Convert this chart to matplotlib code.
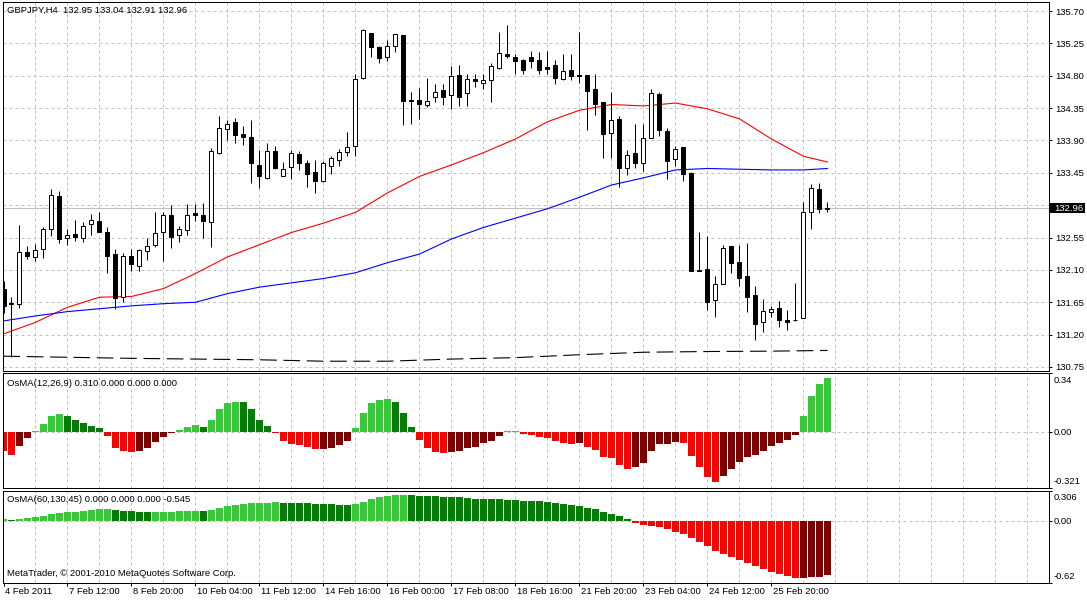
import matplotlib
matplotlib.use("Agg")
import matplotlib.pyplot as plt
import numpy as np
from matplotlib.patches import Rectangle
from matplotlib.transforms import blended_transform_factory, ScaledTranslation

plt.rcParams['font.family'] = ['Liberation Sans', 'DejaVu Sans']

# GBPJPY H4 candles, bar 0 = leftmost visible bar
opens = [131.84, 131.64, 131.62, 132.35, 132.28, 132.39, 132.67, 133.13, 132.55, 132.60,
         132.55, 132.74, 132.78, 132.62, 132.32, 131.73, 132.30, 132.15, 132.36, 132.44,
         132.62, 132.87, 132.58, 132.65, 132.89, 132.86, 132.76, 133.72, 134.06, 134.15,
         133.99, 133.95, 133.56, 133.38, 133.76, 133.41, 133.53, 133.71, 133.59, 133.46,
         133.33, 133.55, 133.63, 133.74, 133.82, 134.77, 135.40, 135.20, 135.06, 135.22,
         135.37, 134.46, 134.46, 134.39, 134.51, 134.60, 134.53, 134.81, 134.56, 134.75,
         134.70, 134.74, 134.91, 135.10, 135.06, 135.02, 135.06, 135.02, 134.92, 134.95,
         134.76, 134.88, 134.81, 134.81, 134.61, 134.44, 134.01, 134.20, 133.51, 133.72,
         133.58, 133.93, 134.55, 134.03, 133.64, 133.81, 133.45, 132.10, 132.11, 131.68,
         131.91, 132.43, 132.21, 132.01, 131.75, 131.37, 131.51, 131.57, 131.40, 131.40,
         131.43, 132.91, 133.23, 132.95]
highs = [131.95, 131.73, 132.73, 132.43, 132.46, 132.70, 133.23, 133.20, 132.67, 132.80,
         132.77, 132.88, 132.90, 132.70, 132.39, 132.33, 132.39, 132.39, 132.54, 132.91,
         132.90, 133.00, 132.71, 133.02, 133.02, 133.03, 133.80, 134.24, 134.19, 134.21,
         134.10, 134.19, 133.77, 133.87, 133.82, 133.60, 133.77, 133.76, 133.63, 133.63,
         133.62, 133.69, 133.78, 134.02, 134.82, 135.45, 135.40, 135.22, 135.30, 135.38,
         135.37, 134.58, 134.63, 134.77, 134.68, 134.69, 134.94, 134.95, 134.82, 134.82,
         134.83, 134.97, 135.41, 135.51, 135.10, 135.03, 135.15, 135.13, 135.15, 135.02,
         135.10, 135.10, 135.41, 134.81, 134.82, 134.44, 134.58, 134.24, 133.77, 134.13,
         134.13, 134.61, 134.57, 134.08, 133.82, 133.81, 133.46, 132.63, 132.57, 132.01,
         132.45, 132.43, 132.45, 132.48, 131.88, 131.70, 131.60, 131.67, 131.54, 131.92,
         133.04, 133.30, 133.31, 133.04]
lows = [131.50, 130.89, 131.57, 132.25, 132.22, 132.26, 132.57, 132.48, 132.44, 132.50,
        132.49, 132.59, 132.62, 132.05, 131.55, 131.66, 132.09, 132.09, 132.24, 132.42,
        132.23, 132.41, 132.49, 132.59, 132.78, 132.55, 132.42, 133.71, 133.90, 133.87,
        133.83, 133.31, 133.24, 133.37, 133.50, 133.40, 133.36, 133.49, 133.25, 133.17,
        133.32, 133.44, 133.54, 133.69, 133.69, 134.75, 135.06, 134.97, 135.00, 135.13,
        134.11, 134.13, 134.20, 134.37, 134.43, 134.39, 134.34, 134.38, 134.38, 134.64,
        134.61, 134.44, 134.90, 135.04, 134.82, 134.82, 134.91, 134.83, 134.83, 134.68,
        134.74, 134.74, 134.70, 134.05, 134.25, 133.65, 133.65, 133.25, 133.42, 133.51,
        133.48, 133.93, 133.96, 133.37, 133.54, 133.33, 132.08, 132.08, 131.54, 131.45,
        131.91, 132.05, 131.87, 131.52, 131.12, 131.23, 131.45, 131.30, 131.27, 131.39,
        131.43, 132.67, 132.89, 132.91]
closes = [131.60, 131.62, 132.35, 132.30, 132.38, 132.67, 133.14, 132.53, 132.58, 132.56,
          132.71, 132.79, 132.63, 132.30, 131.71, 132.30, 132.18, 132.37, 132.43, 132.61,
          132.86, 132.56, 132.67, 132.87, 132.87, 132.78, 133.75, 134.07, 134.13, 133.97,
          133.95, 133.58, 133.40, 133.76, 133.51, 133.50, 133.72, 133.58, 133.44, 133.34,
          133.58, 133.65, 133.74, 133.81, 134.75, 135.43, 135.20, 135.04, 135.22, 135.38,
          134.45, 134.45, 134.40, 134.45, 134.58, 134.51, 134.79, 134.51, 134.76, 134.73,
          134.74, 134.93, 135.11, 135.07, 135.01, 134.88, 135.01, 134.88, 134.90, 134.77,
          134.86, 134.80, 134.79, 134.59, 134.41, 133.99, 134.18, 133.51, 133.70, 133.58,
          133.94, 134.56, 134.04, 133.62, 133.78, 133.44, 132.09, 132.09, 131.66, 131.90,
          132.41, 132.19, 131.99, 131.73, 131.35, 131.53, 131.56, 131.40, 131.38, 131.41,
          132.90, 133.24, 132.95, 132.96]

# moving averages, sampled every 4 bars (black one every 8)
ma_bars = [0, 4, 8, 12, 16, 20, 24, 28, 32, 36, 40, 44, 48, 52, 56, 60, 64, 68, 72,
           76, 80, 84, 88, 92, 96, 100, 103]
red_ma = [131.21, 131.37, 131.58, 131.72, 131.73, 131.84, 132.05, 132.28, 132.45, 132.62,
          132.75, 132.90, 133.17, 133.40, 133.56, 133.73, 133.92, 134.16, 134.32, 134.40,
          134.38, 134.42, 134.34, 134.20, 133.92, 133.68, 133.60]
blue_ma = [131.39, 131.46, 131.52, 131.56, 131.60, 131.63, 131.65, 131.77, 131.86, 131.92,
           131.98, 132.06, 132.20, 132.32, 132.53, 132.69, 132.82, 132.95, 133.11, 133.28,
           133.38, 133.49, 133.51, 133.50, 133.49, 133.49, 133.51]
black_bars = [0, 8, 16, 24, 32, 40, 48, 56, 64, 72, 80, 88, 96, 103]
black_ma = [130.90, 130.885, 130.87, 130.86, 130.85, 130.83, 130.83, 130.86, 130.88,
            130.92, 130.955, 130.965, 130.97, 130.98]

# OsMA(12,26,9) and OsMA(60,130,45)
osma_fast = [-0.105, -0.128, -0.080, -0.036, 0.006, 0.044, 0.095, 0.103, 0.090, 0.072,
             0.055, 0.038, 0.021, -0.023, -0.091, -0.109, -0.114, -0.109, -0.093, -0.057,
             -0.029, -0.006, 0.010, 0.027, 0.040, 0.032, 0.067, 0.132, 0.166, 0.175,
             0.170, 0.130, 0.072, 0.038, -0.006, -0.048, -0.065, -0.074, -0.086, -0.099,
             -0.097, -0.088, -0.071, -0.048, 0.021, 0.112, 0.164, 0.183, 0.189, 0.175,
             0.109, 0.027, -0.042, -0.088, -0.111, -0.120, -0.114, -0.109, -0.093, -0.082,
             -0.061, -0.048, -0.021, 0.004, 0.006, -0.010, -0.017, -0.029, -0.036, -0.051,
             -0.063, -0.069, -0.063, -0.086, -0.103, -0.143, -0.149, -0.189, -0.208, -0.200,
             -0.177, -0.109, -0.069, -0.068, -0.057, -0.063, -0.137, -0.200, -0.257, -0.286,
             -0.252, -0.212, -0.172, -0.143, -0.132, -0.107, -0.080, -0.063, -0.046, -0.017,
             0.090, 0.204, 0.273, 0.310]
osma_slow = [0.017, 0.007, 0.017, 0.027, 0.040, 0.050, 0.067, 0.077, 0.087, 0.088,
             0.097, 0.107, 0.117, 0.118, 0.107, 0.104, 0.097, 0.095, 0.093, 0.094,
             0.095, 0.096, 0.097, 0.098, 0.099, 0.098, 0.111, 0.128, 0.151, 0.161,
             0.171, 0.178, 0.179, 0.181, 0.188, 0.187, 0.186, 0.184, 0.178, 0.177,
             0.171, 0.168, 0.167, 0.166, 0.174, 0.195, 0.218, 0.238, 0.248, 0.258,
             0.259, 0.258, 0.257, 0.252, 0.248, 0.242, 0.241, 0.238, 0.235, 0.225,
             0.221, 0.220, 0.218, 0.215, 0.210, 0.207, 0.204, 0.198, 0.188, 0.178,
             0.168, 0.158, 0.148, 0.128, 0.117, 0.087, 0.067, 0.047, 0.017, -0.017,
             -0.044, -0.050, -0.060, -0.077, -0.111, -0.131, -0.171, -0.211, -0.252, -0.305,
             -0.332, -0.362, -0.392, -0.423, -0.453, -0.480, -0.513, -0.530, -0.554, -0.577,
             -0.574, -0.562, -0.558, -0.545]

price_levels = [130.75, 131.20, 131.65, 132.10, 132.55, 133.00, 133.45, 133.90,
                134.35, 134.80, 135.25, 135.70]
time_ticks = [0, 8, 16, 24, 32, 40, 48, 56, 64, 72, 80, 88, 96]
time_labels = ['4 Feb 2011', '7 Feb 12:00', '8 Feb 20:00', '10 Feb 04:00', '11 Feb 12:00',
               '14 Feb 16:00', '16 Feb 00:00', '17 Feb 08:00', '18 Feb 16:00',
               '21 Feb 20:00', '23 Feb 04:00', '24 Feb 12:00', '25 Feb 20:00']

GRID = '#c0c0c0'
FS = 6.8
W, H = 1087, 600


def box(left, top, right, bottom):
    # pixel box -> figure fraction
    return [left / W, 1 - bottom / H, (right - left) / W, (bottom - top) / H]


def osma_colors(vals, first_up):
    out = []
    for k, v in enumerate(vals):
        rising = first_up if k == 0 else v > vals[k - 1]
        if v >= 0:
            out.append('#32cd32' if rising else '#008000')
        else:
            out.append('#800000' if rising else '#ff0000')
    return out


fig = plt.figure(figsize=(10.87, 6.0), dpi=100)
ax_p = fig.add_axes(box(2.7, 2.3, 1049.3, 370.5))
ax_1 = fig.add_axes(box(2.7, 372.7, 1049.3, 488.3))
ax_2 = fig.add_axes(box(2.7, 490.7, 1049.3, 582.7))

for ax in (ax_p, ax_1, ax_2):
    ax.set_xlim(-0.1, 130.725)
    for s in ax.spines.values():
        s.set_linewidth(0.72)
        s.set_color('black')
    for g in range(4, 131, 4):
        ax.axvline(g, color=GRID, lw=0.72, ls=(0, (3, 3)), zorder=0)
    ax.yaxis.tick_right()
    ax.tick_params(axis='y', direction='out', length=2.2, width=0.72, pad=2,
                   labelsize=FS, colors='black')
    ax.tick_params(axis='x', direction='out', length=2.2, width=0.72, pad=1,
                   labelsize=FS, colors='black')

# --- price panel ---
x = np.arange(len(opens))
o = np.array(opens)
c = np.array(closes)
up = c >= o
ax_p.set_ylim(130.701, 135.821)
for lv in price_levels:
    ax_p.axhline(lv, color=GRID, lw=0.72, ls=(0, (3, 3)), zorder=0)
ax_p.axhline(closes[-1], color=GRID, lw=0.8, zorder=1)

ax_p.plot(ma_bars, red_ma, color='#ff0000', lw=0.8, zorder=2)
ax_p.plot(ma_bars, blue_ma, color='#0000ff', lw=0.8, zorder=2)
ax_p.plot(black_bars, black_ma, color='black', lw=0.8, dashes=(15, 6), zorder=2)

ax_p.vlines(x, lows, highs, color='black', lw=0.72, zorder=3)
body_bot = np.minimum(o, c)
body_h = np.maximum(np.abs(c - o), 0.004)
ax_p.bar(x[up], body_h[up], bottom=body_bot[up], width=0.5, facecolor='white',
         edgecolor='black', linewidth=0.72, zorder=4)
ax_p.bar(x[~up], body_h[~up], bottom=body_bot[~up], width=0.5, facecolor='black',
         edgecolor='black', linewidth=0.72, zorder=4)

ax_p.set_yticks(price_levels)
ax_p.set_yticklabels([f'{v:.2f}' for v in price_levels])
ax_p.set_xticks([])

last = closes[-1]
tr = blended_transform_factory(ax_p.transAxes, ax_p.transData)
ax_p.add_patch(Rectangle((1.0005, last - 0.068), 0.0335, 0.136, transform=tr,
                         facecolor='black', edgecolor='none', clip_on=False, zorder=10))
ax_p.annotate(f'{last:.2f}', xy=(1, last), xycoords=tr, xytext=(5, 0),
              textcoords='offset pixels', color='white', fontsize=FS, va='center',
              ha='left', annotation_clip=False, zorder=11)
ax_p.annotate('GBPJPY,H4  %.2f %.2f %.2f %.2f' % (opens[-1], highs[-1], lows[-1], closes[-1]),
              xy=(0, 1), xycoords='axes fraction', xytext=(4.3, -8.4),
              textcoords='offset pixels', fontsize=FS, va='center', ha='left')

# --- OsMA panels ---
panels = [
    (ax_1, osma_fast, False, (-0.321, 0.34),
     [(0.34, '0.34', -7.6), (0.0, '0.00', 0), (-0.321, '-0.321', 6.6)],
     'OsMA(12,26,9) 0.310 0.000 0.000 0.000', -10.3),
    (ax_2, osma_slow, True, (-0.62, 0.306),
     [(0.306, '0.306', -6.6), (0.0, '0.00', 0), (-0.62, '-0.62', 6.0)],
     'OsMA(60,130,45) 0.000 0.000 0.000 -0.545', -9.3),
]
for ax, vals, first_up, lim, labels, title, dy in panels:
    ax.set_ylim(*lim)
    ax.axhline(0, color=GRID, lw=0.72, ls=(0, (3, 3)), zorder=0)
    ax.bar(x, vals, width=0.85, color=osma_colors(vals, first_up), linewidth=0, zorder=2)
    ax.set_yticks([v for v, _, _ in labels])
    ax.set_yticklabels([])
    tr2 = blended_transform_factory(ax.transAxes, ax.transData)
    for v, txt, off in labels:
        ax.annotate(txt, xy=(1, v), xycoords=tr2, xytext=(4.5, off),
                    textcoords='offset pixels', fontsize=FS, va='center', ha='left',
                    annotation_clip=False)
    ax.annotate(title, xy=(0, 1), xycoords='axes fraction', xytext=(4.3, dy),
                textcoords='offset pixels', fontsize=FS, va='center', ha='left')

ax_1.set_xticks([])
ax_2.set_xticks(time_ticks)
ax_2.set_xticklabels(time_labels, ha='left')
shift = ScaledTranslation(1.5 / 100, 0, fig.dpi_scale_trans)
for lab in ax_2.get_xticklabels():
    lab.set_transform(lab.get_transform() + shift)

ax_2.annotate('MetaTrader, \u00a9 2001-2010 MetaQuotes Software Corp.', xy=(0, 0),
              xycoords='axes fraction', xytext=(4.3, 8.7), textcoords='offset pixels',
              fontsize=FS, va='center', ha='left')

fig.savefig('out.png', dpi=100)
